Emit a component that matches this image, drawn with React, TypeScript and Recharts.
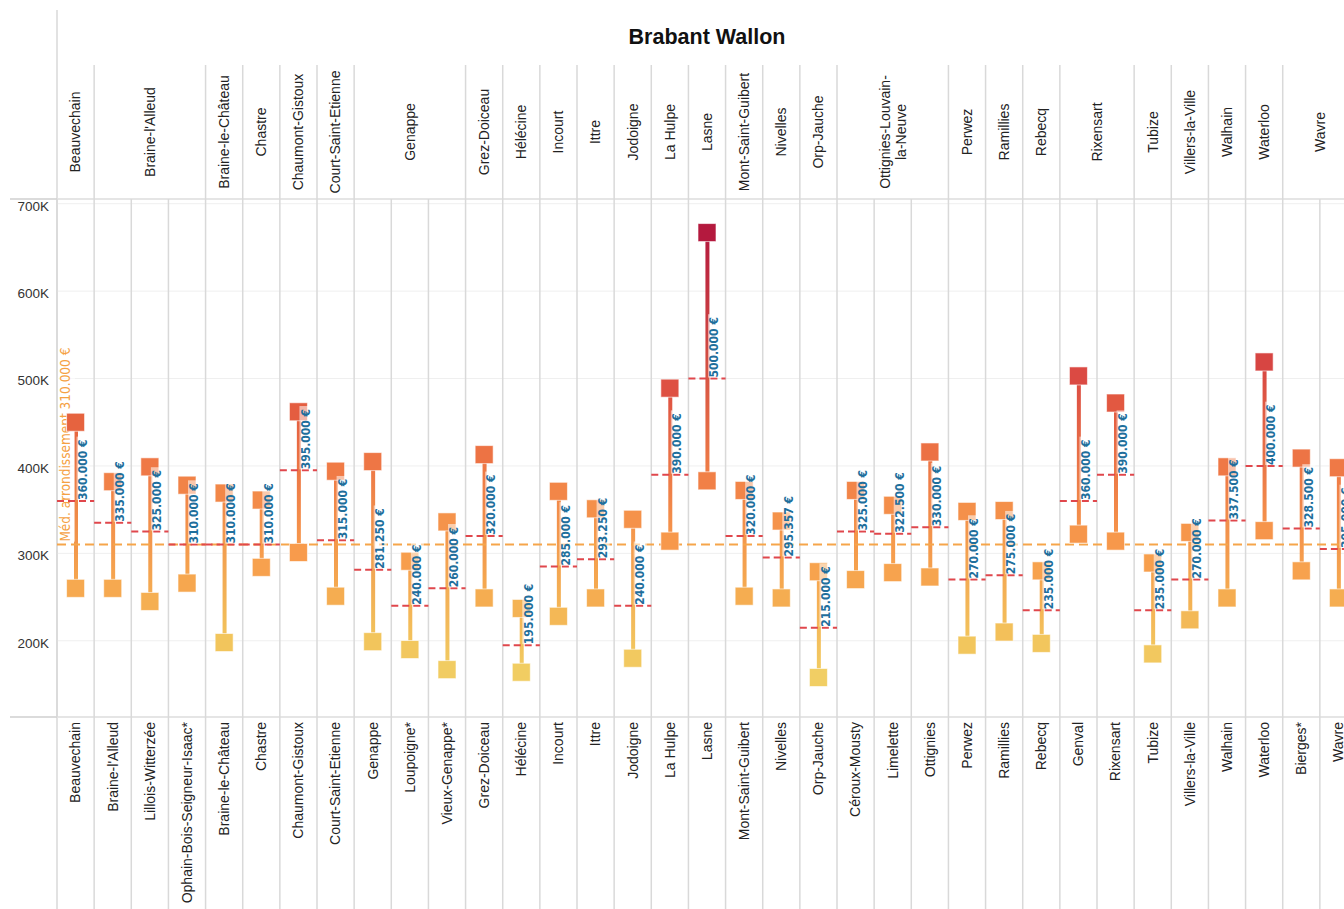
import React from "react";
import { Bar, CartesianGrid, ComposedChart, Line, ReferenceLine, XAxis, YAxis } from "recharts";

// communes (top header) and how many localities each one covers
const communes = [
  "Beauvechain", "Braine-l'Alleud", "Braine-le-Château", "Chastre", "Chaumont-Gistoux",
  "Court-Saint-Etienne", "Genappe", "Grez-Doiceau", "Hélécine", "Incourt", "Ittre", "Jodoigne",
  "La Hulpe", "Lasne", "Mont-Saint-Guibert", "Nivelles", "Orp-Jauche", "Ottignies-Louvain-la-Neuve",
  "Perwez", "Ramillies", "Rebecq", "Rixensart", "Tubize", "Villers-la-Ville", "Walhain", "Waterloo", "Wavre",
];
const communeSpans = [1, 3, 1, 1, 1, 1, 3, 1, 1, 1, 1, 1, 1, 1, 1, 1, 1, 3, 1, 1, 1, 2, 1, 1, 1, 1, 2];

const localities = [
  "Beauvechain", "Braine-l'Alleud", "Lillois-Witterzée", "Ophain-Bois-Seigneur-Isaac*", "Braine-le-Château",
  "Chastre", "Chaumont-Gistoux", "Court-Saint-Etienne", "Genappe", "Loupoigne*", "Vieux-Genappe*",
  "Grez-Doiceau", "Hélécine", "Incourt", "Ittre", "Jodoigne", "La Hulpe", "Lasne", "Mont-Saint-Guibert",
  "Nivelles", "Orp-Jauche", "Céroux-Mousty", "Limelette", "Ottignies", "Perwez", "Ramillies", "Rebecq",
  "Genval", "Rixensart", "Tubize", "Villers-la-Ville", "Walhain", "Waterloo", "Bierges*", "Wavre",
];
const lowPrices = [
  260000, 260000, 245000, 266000, 198000, 284000, 301000, 251000, 199000, 190000, 167000,
  249000, 164000, 228000, 249000, 180000, 314000, 383000, 251000, 249000, 158000, 270000,
  278000, 273000, 195000, 210000, 197000, 322000, 314000, 185000, 224000, 249000, 326000, 280000, 249000,
];
const highPrices = [
  450000, 382000, 399000, 378000, 369000, 361000, 462000, 394000, 405000, 291000, 336000,
  413000, 237000, 371000, 351000, 339000, 489000, 667000, 372000, 337000, 279000, 372000,
  355000, 416000, 348000, 349000, 280000, 503000, 472000, 289000, 324000, 399000, 519000, 409000, 398000,
];
const medianPrices = [
  360000, 335000, 325000, 310000, 310000, 310000, 395000, 315000, 281250, 240000, 260000,
  320000, 195000, 285000, 293250, 240000, 390000, 500000, 320000, 295357, 215000, 325000,
  322500, 330000, 270000, 275000, 235000, 360000, 390000, 235000, 270000, 337500, 400000, 328500, 305000,
];
const yTicks = [200000, 300000, 400000, 500000, 600000, 700000];
const districtMedian = 310000;

// layout
const CHART_W = 1357;
const CHART_H = 909;
const AXIS_W = 57;
const TOP = 65;
const HEADER_H = 134;
const BOTTOM_H = 192;
const PLOT_TOP = TOP + HEADER_H;
const PLOT_BOTTOM = CHART_H - BOTTOM_H;
const BAND = (CHART_W - AXIS_W) / localities.length;
const GRID = "#d9d9d9";
const SANS = "'Liberation Sans', Arial, sans-serif";
const COND = "'DejaVu Sans Condensed', 'DejaVu Sans', sans-serif";

const colorStops: [number, string][] = [
  [150000, "#f1d065"], [200000, "#f2c55c"], [250000, "#f5ad51"], [300000, "#f89b4c"],
  [350000, "#f4904a"], [400000, "#ef7846"], [450000, "#e6633f"], [500000, "#dc4b43"], [670000, "#b3183e"],
];

function hex(c: string) {
  return [1, 3, 5].map((i) => parseInt(c.slice(i, i + 2), 16));
}

function priceColor(v: number) {
  if (v <= colorStops[0][0]) return colorStops[0][1];
  for (let i = 1; i < colorStops.length; i++) {
    const [v1, c1] = colorStops[i];
    if (v <= v1) {
      const [v0, c0] = colorStops[i - 1];
      const t = (v - v0) / (v1 - v0);
      const a = hex(c0);
      const b = hex(c1);
      return `rgb(${a.map((x, k) => Math.round(x + (b[k] - x) * t)).join(",")})`;
    }
  }
  return colorStops[colorStops.length - 1][1];
}

const euro = (v: number) => String(v).replace(/\B(?=(\d{3})+(?!\d))/g, ".") + " €";

const data = localities.map((name, i) => ({
  name,
  low: lowPrices[i],
  high: highPrices[i],
  median: medianPrices[i],
  range: [lowPrices[i], highPrices[i]],
}));

const groupAt: Record<number, { name: string; span: number }> = {};
{
  let k = 0;
  communes.forEach((name, i) => {
    groupAt[k] = { name, span: communeSpans[i] };
    k += communeSpans[i];
  });
}

function wrapHeader(name: string) {
  if (name.length <= 20) return [name];
  const cut = name.indexOf("-", 12) + 1;
  return [name.slice(0, cut), name.slice(cut)];
}

function HeaderTick(props: any) {
  const { x, index } = props;
  const g = groupAt[index];
  if (!g) return <g />;
  const left = x - BAND / 2;
  const mid = left + (g.span * BAND) / 2;
  const lines = wrapHeader(g.name);
  const cy = (TOP + PLOT_TOP) / 2;
  return (
    <g>
      {index > 0 && <line x1={left} x2={left} y1={TOP} y2={PLOT_TOP} stroke={GRID} strokeWidth={1.5} />}
      {lines.map((t, j) => (
        <text
          key={j}
          transform={`translate(${mid + (j - (lines.length - 1) / 2) * 16},${cy}) rotate(-90)`}
          textAnchor="middle"
          dy="0.35em"
          fontSize={14}
          fontFamily={SANS}
          fill="#222"
        >
          {t}
        </text>
      ))}
    </g>
  );
}

function BottomTick(props: any) {
  const { x, payload } = props;
  return (
    <g>
      <line x1={x + BAND / 2} x2={x + BAND / 2} y1={PLOT_BOTTOM} y2={CHART_H} stroke={GRID} strokeWidth={1.5} />
      <text
        transform={`translate(${x},${PLOT_BOTTOM + 5}) rotate(-90)`}
        textAnchor="end"
        dy="0.35em"
        fontSize={14}
        fontFamily={SANS}
        fill="#222"
      >
        {payload.value}
      </text>
    </g>
  );
}

function RangeShape(props: any) {
  const { x, y, width, height, payload, index } = props;
  const top = height < 0 ? y + height : y;
  const h = Math.abs(height);
  const id = `rng-${index}`;
  return (
    <g>
      <defs>
        <linearGradient id={id} x1="0" y1="0" x2="0" y2="1">
          <stop offset="0" stopColor={priceColor(payload.high)} />
          <stop offset="1" stopColor={priceColor(payload.low)} />
        </linearGradient>
      </defs>
      <rect x={x} y={top} width={width} height={h} fill={`url(#${id})`} />
    </g>
  );
}

const squareDot = (key: "low" | "high") => (props: any) => {
  const { cx, cy, payload, index } = props;
  if (cx == null || cy == null) return <g key={`${key}-${index}`} />;
  return (
    <rect
      key={`${key}-${index}`}
      x={cx - 9}
      y={cy - 9}
      width={18}
      height={18}
      fill={priceColor(payload[key])}
      stroke="#fff"
      strokeOpacity={0.6}
      strokeWidth={1}
    />
  );
};

const medianDot = (props: any) => {
  const { cx, cy, payload, index } = props;
  if (cx == null || cy == null) return <g key={`m-${index}`} />;
  const txt = euro(payload.median);
  const len = txt.length * 6.7;
  return (
    <g key={`m-${index}`}>
      <line x1={cx - BAND / 2} x2={cx + BAND / 2} y1={cy} y2={cy} stroke="#e0474c" strokeWidth={2} strokeDasharray="7 4" />
      <rect x={cx + 1} y={cy - len - 4} width={13} height={len + 3} fill="#fff" fillOpacity={0.55} />
      <text
        transform={`translate(${cx + 7},${cy - 1}) rotate(-90)`}
        dy="0.36em"
        fontSize={12}
        fontWeight="bold"
        fontFamily={COND}
        fill="#1f6f9c"
      >
        {txt}
      </text>
    </g>
  );
};

function MedianLabel(props: any) {
  const { viewBox } = props;
  if (!viewBox) return null;
  const txt = `Méd. arrondissement ${euro(districtMedian)}`;
  return (
    <g>
      <rect x={viewBox.x + 1} y={viewBox.y - 212} width={17} height={209} fill="#fff" fillOpacity={0.55} />
      <text
        transform={`translate(${viewBox.x + 8},${viewBox.y - 3}) rotate(-90)`}
        dy="0.36em"
        fontSize={13.5}
        fontWeight={500}
        fontFamily={COND}
        fill="#f5a142"
      >
        {txt}
      </text>
    </g>
  );
}

export default function App() {
  return (
    <div style={{ position: "absolute", left: 0, top: 0, width: 1344, height: 909, overflow: "hidden", background: "#fff" }}>
      <svg width={1344} height={909} style={{ position: "absolute", left: 0, top: 0 }}>
        <line x1={AXIS_W} x2={AXIS_W} y1={10} y2={CHART_H} stroke={GRID} strokeWidth={1.5} />
        <line x1={10} x2={1344} y1={PLOT_TOP} y2={PLOT_TOP} stroke="#cfcfcf" strokeWidth={1.5} />
        <line x1={10} x2={1344} y1={PLOT_BOTTOM} y2={PLOT_BOTTOM} stroke="#cfcfcf" strokeWidth={1.5} />
        <text x={AXIS_W + (CHART_W - AXIS_W) / 2} y={44} textAnchor="middle" fontSize={21.5} fontWeight="bold" fontFamily={SANS} fill="#111">
          Brabant Wallon
        </text>
      </svg>
      <div style={{ position: "absolute", left: 0, top: 0 }}>
        <ComposedChart width={CHART_W} height={CHART_H} data={data} margin={{ top: TOP, right: 0, bottom: 0, left: 0 }}>
          <CartesianGrid vertical={false} stroke="#efefef" />
          <CartesianGrid
            horizontal={false}
            stroke={GRID}
            strokeWidth={1.5}
            verticalPoints={Array.from({ length: localities.length + 1 }, (_, i) => AXIS_W + i * BAND)}
          />
          <XAxis dataKey="name" interval={0} height={BOTTOM_H} axisLine={false} tickLine={false} tick={<BottomTick />} />
          <XAxis xAxisId="top" orientation="top" dataKey="name" interval={0} height={HEADER_H} axisLine={false} tickLine={false} tick={<HeaderTick />} />
          <YAxis
            type="number"
            domain={[112800, 705400]}
            allowDataOverflow
            ticks={yTicks}
            width={AXIS_W}
            axisLine={false}
            tickLine={false}
            tickFormatter={(v: number) => `${v / 1000}K`}
            tick={{ fontSize: 13.5, fill: "#333", fontFamily: SANS, dy: 2 }}
          />
          <ReferenceLine y={districtMedian} stroke="#f6a54a" strokeWidth={2} strokeDasharray="9 5" />
          <Bar dataKey="range" barSize={4} shape={<RangeShape />} isAnimationActive={false} />
          <Line dataKey="low" stroke="none" dot={squareDot("low")} activeDot={false} isAnimationActive={false} />
          <Line dataKey="high" stroke="none" dot={squareDot("high")} activeDot={false} isAnimationActive={false} />
          <Line dataKey="median" stroke="none" dot={medianDot} activeDot={false} isAnimationActive={false} />
          <ReferenceLine y={districtMedian} stroke="none" label={<MedianLabel />} />
        </ComposedChart>
      </div>
    </div>
  );
}
